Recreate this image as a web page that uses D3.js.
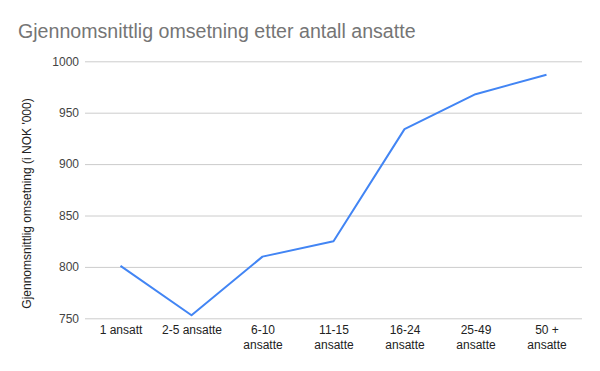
<!DOCTYPE html>
<html><head><meta charset="utf-8">
<script src="https://cdn.jsdelivr.net/npm/d3@7"></script>
<style>body{margin:0;background:#fff}svg{display:block}</style>
</head><body>
<svg id="c" width="600" height="371"></svg>
<script>
const categories = ["1 ansatt","2-5 ansatte","6-10 ansatte","11-15 ansatte","16-24 ansatte","25-49 ansatte","50 + ansatte"];
const labelLines = [["1 ansatt"],["2-5 ansatte"],["6-10","ansatte"],["11-15","ansatte"],["16-24","ansatte"],["25-49","ansatte"],["50 +","ansatte"]];
const values = [801, 753, 810, 825, 934, 968, 987];
const yTicks = [750, 800, 850, 900, 950, 1000];

const svg = d3.select("#c");
const font = "Arial, 'Liberation Sans', sans-serif";
const x = d3.scalePoint().domain(categories).range([85, 582]).padding(0.5);
const y = d3.scaleLinear().domain([750, 1000]).range([318.3, 61.3]);

svg.append("rect").attr("width",600).attr("height",371).attr("fill","#fff");

svg.append("text").attr("x",18).attr("y",37.5).attr("font-family",font).attr("font-size",19.6)
  .attr("fill","#757575").text("Gjennomsnittlig omsetning etter antall ansatte");

const yAxis = d3.axisLeft(y).tickValues(yTicks).tickSize(-497).tickPadding(6).tickFormat(d3.format("d"));
const gy = svg.append("g").attr("transform","translate(85,0)").call(yAxis);
gy.select(".domain").remove();
gy.selectAll(".tick line").attr("stroke","#cccccc").attr("stroke-width",1);
gy.selectAll(".tick text").attr("font-family",font).attr("font-size",12).attr("fill","#444");

const gx = svg.append("g").attr("transform","translate(0,318.3)")
  .call(d3.axisBottom(x).tickSize(0).tickPadding(0).tickFormat(""));
gx.select(".domain").remove();
gx.selectAll(".tick").each(function(d,i){
  const t = d3.select(this).append("text").attr("text-anchor","middle")
    .attr("font-family",font).attr("font-size",12).attr("fill","#222");
  labelLines[i].forEach((s,j)=>t.append("tspan").attr("x",0).attr("y",16+j*15).text(s));
});

svg.append("text").attr("transform","translate(31,203.5) rotate(-90)").attr("text-anchor","middle")
  .attr("font-family",font).attr("font-size",12).attr("fill","#222")
  .text("Gjennomsnittlig omsetning (i NOK '000)");

svg.append("path").datum(values)
  .attr("fill","none").attr("stroke","#4285F4").attr("stroke-width",2).attr("stroke-linejoin","round")
  .attr("d", d3.line().x((d,i)=>x(categories[i])).y(d=>y(d)));
</script>
</body></html>
